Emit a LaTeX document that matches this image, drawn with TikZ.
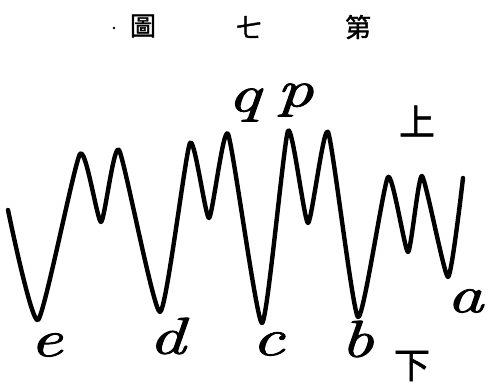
\documentclass[tikz,border=0pt]{standalone}
\usepackage{fontspec}
\newfontfamily\cjk{Noto Sans CJK TC}[FakeBold=1.5]
\newfontfamily\labfont{Latin Modern Roman}[FakeBold=1.6]
\tikzset{
  wave/.style={line width=4.4pt, line cap=round, line join=round},
  lab/.style={font=\labfont\fontsize{52}{52}\selectfont\itshape, inner sep=0pt, xscale=1.4},
  cjklab/.style={font=\cjk\fontsize{26}{26}\selectfont, inner sep=0pt},
  cjkbig/.style={font=\cjk\fontsize{36}{36}\selectfont, inner sep=0pt},
}
\begin{document}
\begin{tikzpicture}[x=1pt,y=-1pt]
\useasboundingbox (0,0) rectangle (493,387);
\fill[white] (0,0) rectangle (493,387);
% title
\node[cjklab] (t1) at (143,26) {圖};
\node[cjklab] (t2) at (249,27) {七};
\node[cjklab] (t3) at (358,27) {第};
\fill (114,28) circle (1.3);
% wave
\draw[wave] plot[smooth, tension=0.32] coordinates {
 (8,210) (38,320) (80,154) (101,222) (119,150) (160,312)
 (190,143) (209,218) (228,134) (262,323) (288,131) (308,223)
 (328,132) (358,317) (388,177) (408,252) (422,176) (448,277) (463,178)};
% labels
\node[lab] (e) at (46,345) {e};
\node[lab] (d) at (167,336) {d};
\node[lab] (c) at (268,344) {c};
\node[lab] (b) at (357,339) {b};
\node[lab] (a) at (465,301) {a};
\node[lab] (q) at (244,105) {q};
\node[lab] (p) at (295,100) {p};
\node[cjkbig] (up) at (417,121) {上};
\node[cjkbig] (down) at (412,366) {下};
\end{tikzpicture}
\end{document}
